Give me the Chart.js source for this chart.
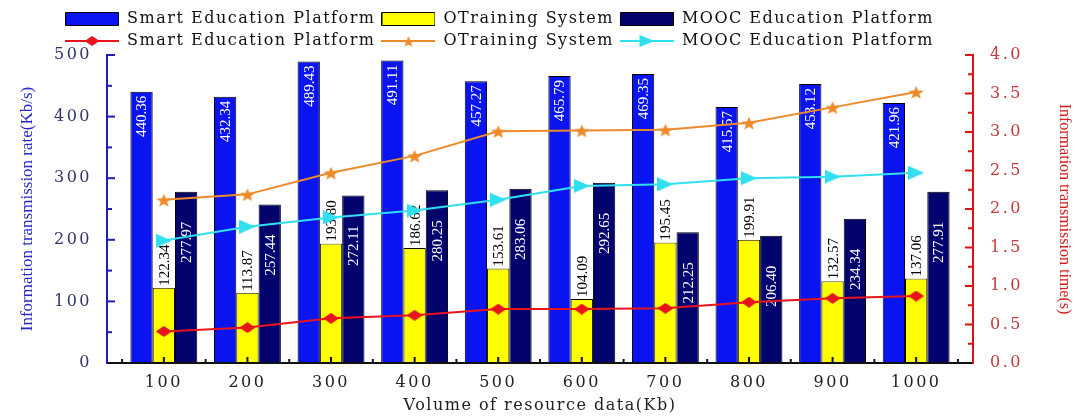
<!DOCTYPE html>
<html>
<head>
<meta charset="utf-8">
<script src="https://cdn.jsdelivr.net/npm/chart.js@4.4.1/dist/chart.umd.min.js"></script>
<style>
  html, body { margin: 0; padding: 0; background: #fff; }
</style>
</head>
<body>
<canvas id="myChart" width="1081" height="417"></canvas>
<script>
const dataVolume = [100, 200, 300, 400, 500, 600, 700, 800, 900, 1000];
const seriesNames = ['Smart Education Platform', 'OTraining System', 'MOOC Education Platform'];
const rateSmart = [440.36, 432.34, 489.43, 491.11, 457.27, 465.79, 469.35, 415.57, 453.12, 421.96];
const rateOTraining = [122.34, 113.87, 193.80, 186.62, 153.61, 104.09, 195.45, 199.91, 132.57, 137.06];
const rateMooc = [277.97, 257.44, 272.11, 280.25, 283.06, 292.65, 212.25, 206.40, 234.34, 277.91];
const timeSmart = [0.41, 0.46, 0.58, 0.62, 0.70, 0.70, 0.71, 0.79, 0.84, 0.87];
const timeOTraining = [2.12, 2.19, 2.47, 2.69, 3.01, 3.02, 3.03, 3.12, 3.32, 3.52];
const timeMooc = [1.59, 1.77, 1.89, 1.98, 2.12, 2.30, 2.32, 2.40, 2.42, 2.47];
const rateTicks = [0, 100, 200, 300, 400, 500];
const timeTicks = [0, 0.5, 1.0, 1.5, 2.0, 2.5, 3.0, 3.5, 4.0];

const barColors = ['#0a14f0', '#ffff00', '#03036e'];
const lineColors = ['#e8141c', '#ee8a2a', '#30e0ee'];

Chart.defaults.font.family = "'DejaVu Serif', serif";

const toPoints = ys => dataVolume.map((x, i) => ({ x: x, y: ys[i] }));

// marker shapes, drawn into small canvases (used as pointStyle)
function drawShape(g, shape, cx, cy, w, h) {
  g.beginPath();
  if (shape === 'diamond') {
    g.moveTo(cx - w / 2, cy); g.lineTo(cx, cy - h / 2); g.lineTo(cx + w / 2, cy); g.lineTo(cx, cy + h / 2);
  } else if (shape === 'triangle') {
    g.moveTo(cx - w / 2, cy - h / 2); g.lineTo(cx + w / 2, cy); g.lineTo(cx - w / 2, cy + h / 2);
  } else if (shape === 'star') {
    for (let k = 0; k < 10; k++) {
      const r = k % 2 ? 0.42 : 1;
      const a = -Math.PI / 2 + k * Math.PI / 5;
      g.lineTo(cx + Math.cos(a) * r * w / 2, cy + 1 + Math.sin(a) * r * h / 2);
    }
  } else {
    g.rect(cx - w / 2 + 0.5, cy - h / 2 + 0.5, w - 1, h - 1);
  }
  g.closePath();
  g.fill();
}

function icon(shape, color, w, h, lineLen) {
  const c = document.createElement('canvas');
  c.width = lineLen || w;
  c.height = h;
  const g = c.getContext('2d');
  if (lineLen) {
    g.strokeStyle = color; g.lineWidth = 2;
    g.beginPath(); g.moveTo(0, h / 2); g.lineTo(lineLen, h / 2); g.stroke();
  }
  g.fillStyle = color;
  drawShape(g, shape, c.width / 2, h / 2, w, h);
  if (shape === 'box') { g.strokeStyle = '#000'; g.lineWidth = 1; g.stroke(); }
  return c;
}

const shapes = ['diamond', 'star', 'triangle'];
const pointIcons = shapes.map((s, i) => icon(s, lineColors[i], 16, s === 'diamond' ? 11 : 14));
const legendIcons = barColors.map(c => icon('box', c, 54, 14))
  .concat(shapes.map((s, i) => icon(s, lineColors[i], s === 'star' ? 13 : 15, s === 'diamond' ? 10 : 12, 54)));

// value labels on the bars, rotated
const barLabels = {
  id: 'barLabels',
  afterDatasetDraw(chart, args) {
    const i = args.index;
    if (i > 2) return;
    const ctx = chart.ctx;
    ctx.save();
    ctx.letterSpacing = '0px';
    ctx.font = "15px 'Liberation Serif'";
    ctx.textBaseline = 'middle';
    args.meta.data.forEach((bar, j) => {
      const text = chart.data.datasets[i].data[j].y.toFixed(2);
      const w = ctx.measureText(text).width;
      ctx.save();
      ctx.translate(bar.x, bar.y);
      ctx.rotate(-Math.PI / 2);
      if (i === 1) {
        ctx.fillStyle = '#fff';
        ctx.fillRect(0, -bar.width / 2 + 0.5, w + 4, bar.width - 1);
        ctx.fillStyle = '#000';
        ctx.textAlign = 'left';
        ctx.fillText(text, 2, 1);
      } else {
        ctx.fillStyle = '#fff';
        ctx.textAlign = 'right';
        ctx.fillText(text, i === 0 ? -4 : -30, 1);
      }
      ctx.restore();
    });
    ctx.restore();
  }
};

// inward tick marks on the three axes
const inwardTicks = {
  id: 'inwardTicks',
  afterDatasetsDraw(chart) {
    const { ctx, chartArea: a, scales } = chart;
    const mids = arr => arr.slice(1).map((v, k) => (v + arr[k]) / 2);
    ctx.save();
    ctx.lineWidth = 2;
    ctx.strokeStyle = '#1e1eb4';
    rateTicks.forEach(v => { const p = scales.y.getPixelForValue(v); ctx.beginPath(); ctx.moveTo(a.left, p); ctx.lineTo(a.left + 8, p); ctx.stroke(); });
    mids(rateTicks).forEach(v => { const p = scales.y.getPixelForValue(v); ctx.beginPath(); ctx.moveTo(a.left, p); ctx.lineTo(a.left + 5, p); ctx.stroke(); });
    ctx.strokeStyle = '#dd1111';
    timeTicks.forEach(v => { const p = scales.y1.getPixelForValue(v); ctx.beginPath(); ctx.moveTo(a.right, p); ctx.lineTo(a.right - 8, p); ctx.stroke(); });
    mids(timeTicks).forEach(v => { const p = scales.y1.getPixelForValue(v); ctx.beginPath(); ctx.moveTo(a.right, p); ctx.lineTo(a.right - 5, p); ctx.stroke(); });
    ctx.strokeStyle = '#111';
    dataVolume.forEach(v => { const p = scales.x.getPixelForValue(v); ctx.beginPath(); ctx.moveTo(p, a.bottom); ctx.lineTo(p, a.bottom - 6); ctx.stroke(); });
    mids([0].concat(dataVolume, [1100])).forEach(v => { const p = scales.x.getPixelForValue(v); ctx.beginPath(); ctx.moveTo(p, a.bottom); ctx.lineTo(p, a.bottom - 4); ctx.stroke(); });
    ctx.restore();
  }
};

// letter spacing for the wide serif text, legend placement
const textTweaks = {
  id: 'textTweaks',
  beforeLayout(chart) {
    chart.ctx.letterSpacing = '1.5px';
    const lg = chart.legend;
    if (lg && !lg._patched) {
      const fit = lg.fit, draw = lg.draw;
      lg.fit = function () { fit.call(this); this.height = 51; };
      lg.draw = function () { this.ctx.save(); this.ctx.translate(-41, 1); draw.call(this); this.ctx.restore(); };
      lg._patched = true;
    }
  },
  beforeDraw(chart) {
    chart.ctx.letterSpacing = '1.5px';
    Object.values(chart.scales).forEach(s => {
      if (s._patched) return;
      const drawLabels = s.drawLabels, drawTitle = s.drawTitle;
      s.drawLabels = function (area) { const c = this.ctx, prev = c.letterSpacing; c.letterSpacing = '2.5px'; drawLabels.call(this, area); c.letterSpacing = prev; };
      if (s.id !== 'x') {
        s.drawTitle = function () { const c = this.ctx, prev = c.letterSpacing; c.letterSpacing = '0px'; drawTitle.call(this); c.letterSpacing = prev; };
      }
      s._patched = true;
    });
  }
};

const ctx = document.getElementById('myChart');

new Chart(ctx, {
  type: 'bar',
  data: {
    datasets: [
      { label: seriesNames[0], data: toPoints(rateSmart), backgroundColor: barColors[0], borderColor: '#000', borderWidth: 1, yAxisID: 'y', order: 1 },
      { label: seriesNames[1], data: toPoints(rateOTraining), backgroundColor: barColors[1], borderColor: '#000', borderWidth: 1, yAxisID: 'y', order: 1 },
      { label: seriesNames[2], data: toPoints(rateMooc), backgroundColor: barColors[2], borderColor: '#000', borderWidth: 1, yAxisID: 'y', order: 1 },
      { type: 'line', label: seriesNames[0], data: toPoints(timeSmart), borderColor: lineColors[0], borderWidth: 2, pointStyle: pointIcons[0], yAxisID: 'y1', order: 0 },
      { type: 'line', label: seriesNames[1], data: toPoints(timeOTraining), borderColor: lineColors[1], borderWidth: 2, pointStyle: pointIcons[1], yAxisID: 'y1', order: 0 },
      { type: 'line', label: seriesNames[2], data: toPoints(timeMooc), borderColor: lineColors[2], borderWidth: 2, pointStyle: pointIcons[2], yAxisID: 'y1', order: 0 }
    ]
  },
  options: {
    responsive: false,
    animation: false,
    events: [],
    categoryPercentage: 0.8,
    barPercentage: 1.0,
    layout: { padding: { top: 4 } },
    plugins: {
      tooltip: { enabled: false },
      legend: {
        position: 'top',
        labels: {
          usePointStyle: true,
          pointStyleWidth: 54,
          boxHeight: 14,
          padding: 6,
          color: '#111',
          font: { size: 16 },
          generateLabels: chart => chart.data.datasets.map((ds, i) => ({
            text: ds.label, pointStyle: legendIcons[i], datasetIndex: i, hidden: false,
            lineWidth: 0, fillStyle: 'transparent', strokeStyle: 'transparent', fontColor: '#111'
          }))
        }
      }
    },
    scales: {
      x: {
        type: 'linear',
        min: 32,
        max: 1068,
        offset: false,
        afterBuildTicks: s => { s.ticks = dataVolume.map(v => ({ value: v })); },
        afterFit: s => { s.height = 54; },
        ticks: { autoSkip: false, maxRotation: 0, padding: 10, color: '#222', font: { size: 16 }, callback: v => String(v) },
        grid: { display: false, drawTicks: false, offset: false },
        border: { color: '#111', width: 2, z: 1 },
        title: { display: true, text: 'Volume of resource data(Kb)', color: '#222', font: { size: 16 }, padding: { top: 0, bottom: 2 } }
      },
      y: {
        position: 'left',
        min: 0,
        max: 500,
        afterBuildTicks: s => { s.ticks = rateTicks.map(v => ({ value: v })); },
        afterFit: s => { s.width = 107; },
        ticks: { padding: 15, color: '#33336e', font: { size: 16 } },
        grid: { display: false, drawTicks: false },
        border: { color: '#1e1eb4', width: 2, z: 1 },
        title: { display: true, text: 'Information transmission rate(Kb/s)', color: '#2828c8', font: { family: "'Liberation Serif', serif", size: 17 }, padding: { top: 17, bottom: 0 } }
      },
      y1: {
        position: 'right',
        min: 0,
        max: 4,
        afterBuildTicks: s => { s.ticks = timeTicks.map(v => ({ value: v })); },
        afterFit: s => { s.width = 108; },
        ticks: { padding: 17, color: '#c23a3a', font: { size: 16 }, callback: v => v.toFixed(1) },
        grid: { display: false, drawTicks: false },
        border: { color: '#dd1111', width: 2, z: 1 },
        title: { display: true, text: 'Information transmission time(s)', color: '#d42020', font: { family: "'Liberation Serif', serif", size: 16 }, padding: { top: 7, bottom: 0 } }
      }
    }
  },
  plugins: [textTweaks, barLabels, inwardTicks]
});
</script>
</body>
</html>
